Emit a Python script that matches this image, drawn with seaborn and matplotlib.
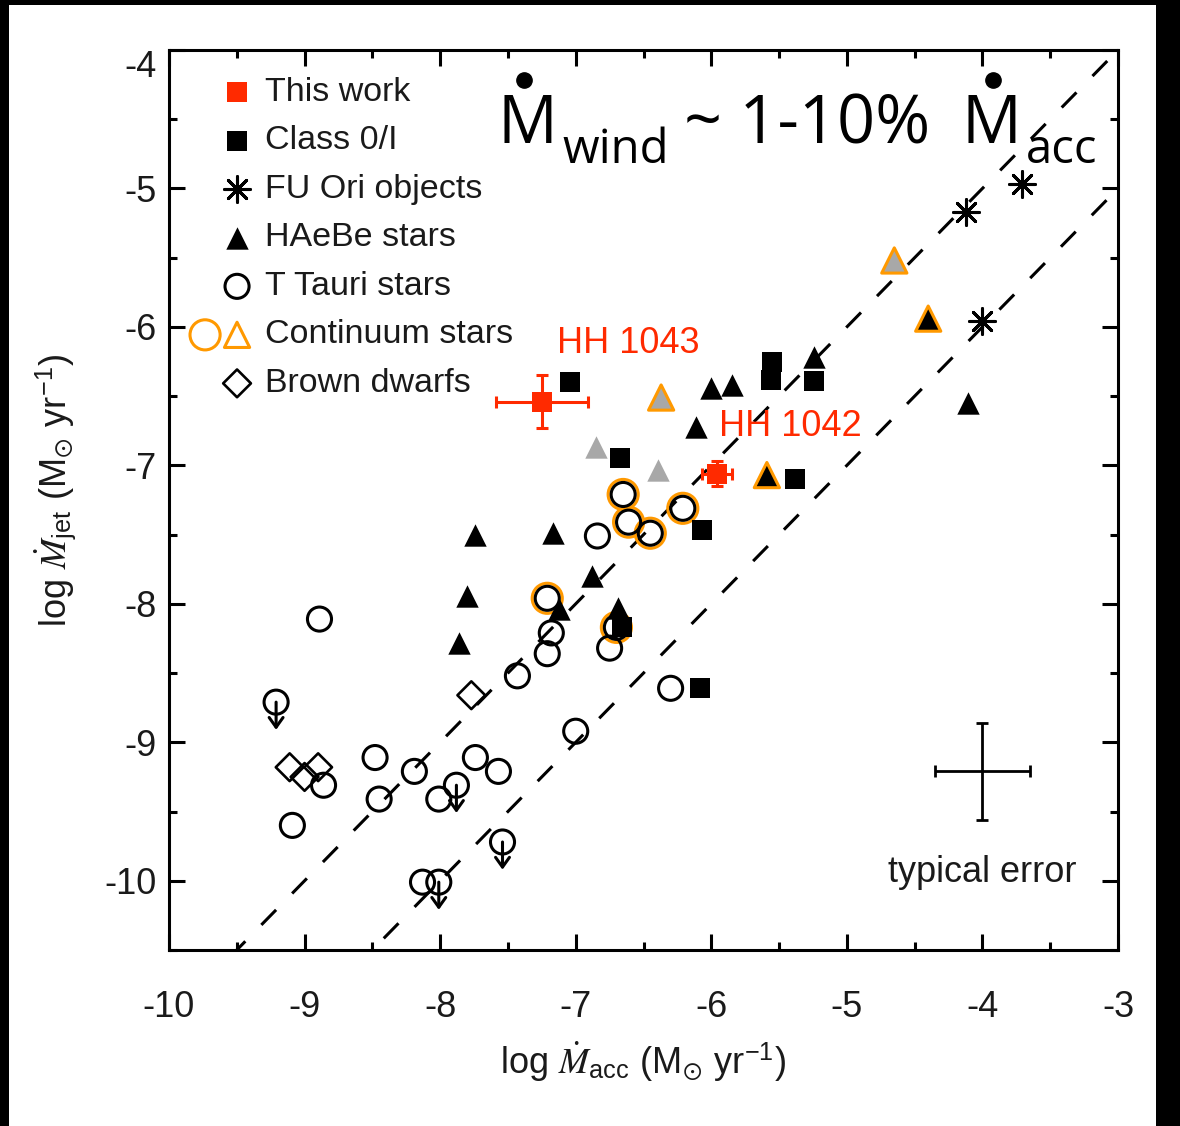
import matplotlib
matplotlib.use("Agg")
import matplotlib.pyplot as plt
import numpy as np
import seaborn as sns
from matplotlib.lines import Line2D
from matplotlib.patches import Rectangle
from matplotlib.ticker import MultipleLocator

# log Mdot_acc (x) and log Mdot_jet (y)
THIS_WORK_X = [-7.25, -5.96]
THIS_WORK_Y = [-6.54, -7.06]
THIS_WORK_XERR = [0.34, 0.11]
THIS_WORK_YERR = [0.19, 0.09]
THIS_WORK_NAMES = ["HH 1043", "HH 1042"]
NAME_X = [-7.14, -5.94]  # left edge of each name
NAME_Y = [-6.12, -6.72]

CLASS0_X = [-7.04, -6.67, -5.55, -5.56, -5.24, -5.38, -6.07, -6.66, -6.08]
CLASS0_Y = [-6.40, -6.95, -6.25, -6.38, -6.39, -7.10, -7.47, -8.17, -8.61]

FUORI_X = [-4.12, -3.71, -4.00]
FUORI_Y = [-5.17, -4.97, -5.96]

HAEBE_X = [-6.00, -5.85, -5.24, -6.11, -7.74, -7.17, -7.80, -7.86, -6.88, -7.12, -6.69, -4.11]
HAEBE_Y = [-6.44, -6.42, -6.22, -6.72, -7.50, -7.49, -7.94, -8.28, -7.80, -8.04, -8.03, -6.55]
HAEBE_GREY_X = [-6.85, -6.39]
HAEBE_GREY_Y = [-6.87, -7.03]

# continuum stars (orange outline)
CONT_TRI_X = [-4.40, -5.59, -4.65, -6.37]
CONT_TRI_Y = [-5.94, -7.07, -5.52, -6.51]
CONT_TRI_GREY = [False, False, True, True]
CONT_CIRC_X = [-6.65, -6.61, -6.45, -6.21, -7.21, -6.70]
CONT_CIRC_Y = [-7.21, -7.41, -7.49, -7.31, -7.96, -8.17]

TT_X = [-8.89, -9.21, -6.84, -7.18, -7.21, -7.43, -6.75, -6.30, -7.00, -8.48, -8.19,
        -8.45, -8.86, -9.09, -7.74, -7.57, -7.88, -8.01, -7.54, -8.13, -8.01]
TT_Y = [-8.11, -8.71, -7.51, -8.21, -8.36, -8.52, -8.32, -8.61, -8.92, -9.11, -9.21,
        -9.41, -9.31, -9.60, -9.11, -9.21, -9.31, -9.41, -9.72, -10.01, -10.01]
TT_UPPER = [False, True, False, False, False, False, False, False, False, False, False,
            False, False, False, False, False, True, False, True, False, True]

BD_X = [-9.11, -9.00, -8.90, -7.77]
BD_Y = [-9.18, -9.25, -9.18, -8.66]

TYPICAL_X, TYPICAL_Y, TYPICAL_ERR = -4.0, -9.21, 0.35
UL_ARROW = 0.2

LINE_X = np.array([-10.0, -3.0])
LINE_OFFSETS = [1, 2]  # Mjet = 10% and 1% of Macc

LEGEND_LABELS = ["This work", "Class 0/I", "FU Ori objects", "HAeBe stars",
                 "T Tauri stars", "Continuum stars", "Brown dwarfs"]

RED = "#FF2A00"
ORANGE = "#FF9900"
GREY = "#A8A8A8"
INK = "#1a1a1a"
LW = 2.2

STYLE = {
    "this_work": dict(marker="s", s=210, color=RED, edgecolor=RED, linewidth=0),
    "class0": dict(marker="s", s=200, color="black", edgecolor="black", linewidth=0),
    "fuori": dict(marker=(8, 2, 0), s=340, color="black", linewidth=LW),
    "haebe": dict(marker="^", s=260, color="black", edgecolor="black", linewidth=0),
    "ttauri": dict(marker="o", s=300, facecolor="none", edgecolor="black", linewidth=LW),
    "cont_circ": dict(marker="o", s=470, facecolor="none", edgecolor=ORANGE, linewidth=LW),
    "cont_tri": dict(marker="^", s=330, facecolor="none", edgecolor=ORANGE, linewidth=LW),
    "bd": dict(marker="D", s=200, facecolor="none", edgecolor="black", linewidth=1.9),
}

W, H = 1180, 1126

sns.set_theme(style="ticks")
plt.rcParams["font.family"] = ["Liberation Sans", "DejaVu Sans"]
plt.rcParams["mathtext.fontset"] = "stix"
plt.rcParams["axes.unicode_minus"] = False


def fpos(x, y_top):
    # pixel position (from top-left) -> figure fraction
    return x / W, 1 - y_top / H


def scatter(ax, xs, ys, key, zorder, **extra):
    kws = {**STYLE[key], **extra}
    sns.scatterplot(x=xs, y=ys, ax=ax, legend=False, zorder=zorder, **kws)


fig = plt.figure(figsize=(W / 100, H / 100), dpi=100, facecolor="black")
fig.patches.append(Rectangle((9 / W, 0), (1156 - 9) / W, (H - 5) / H,
                             transform=fig.transFigure, facecolor="white",
                             edgecolor="none", zorder=-10))
ax = fig.add_axes([169 / W, 176 / H, 949 / W, 900 / H])

# reference lines
for off in LINE_OFFSETS:
    sns.lineplot(x=LINE_X, y=LINE_X - off, ax=ax, color="black", linewidth=LW,
                 linestyle=(0, (6.9, 7.5)), zorder=2)

# T Tauri + continuum circles
scatter(ax, CONT_CIRC_X, CONT_CIRC_Y, "cont_circ", 3)
scatter(ax, CONT_CIRC_X, CONT_CIRC_Y, "ttauri", 3.2)
scatter(ax, TT_X, TT_Y, "ttauri", 3.2)
for x, y, up in zip(TT_X, TT_Y, TT_UPPER):
    if up:
        ax.annotate("", xy=(x, y - UL_ARROW), xytext=(x, y),
                    arrowprops=dict(arrowstyle="->,head_length=0.35,head_width=0.25",
                                    lw=LW, color="black", shrinkA=0, shrinkB=0,
                                    mutation_scale=20), zorder=3.2)
scatter(ax, BD_X, BD_Y, "bd", 3.3)

# HAeBe stars
scatter(ax, HAEBE_X, HAEBE_Y, "haebe", 4)
scatter(ax, HAEBE_GREY_X, HAEBE_GREY_Y, "haebe", 4, color=GREY, edgecolor=GREY)
tri_fill = [GREY if g else "black" for g in CONT_TRI_GREY]
ax.scatter(CONT_TRI_X, CONT_TRI_Y, marker="^", s=330, facecolor=tri_fill,
           edgecolor=ORANGE, linewidth=LW, zorder=4)

scatter(ax, CLASS0_X, CLASS0_Y, "class0", 4.5)
scatter(ax, FUORI_X, FUORI_Y, "fuori", 4.5)

# this work
ax.errorbar(THIS_WORK_X, THIS_WORK_Y, xerr=THIS_WORK_XERR, yerr=THIS_WORK_YERR,
            fmt="none", ecolor=RED, elinewidth=LW, capsize=4.5, capthick=LW, zorder=5)
scatter(ax, THIS_WORK_X, THIS_WORK_Y, "this_work", 6)
for x, y, name in zip(NAME_X, NAME_Y, THIS_WORK_NAMES):
    ax.text(x, y, name, color=RED, fontsize=26, ha="left", va="center", zorder=7)

# typical error cross
ax.errorbar([TYPICAL_X], [TYPICAL_Y], xerr=TYPICAL_ERR, yerr=TYPICAL_ERR, fmt="none",
            ecolor="black", elinewidth=2.0, capsize=4.3, capthick=2.0, zorder=5)
ax.text(TYPICAL_X, TYPICAL_Y - 0.73, "typical error", ha="center", va="center",
        fontsize=26, color=INK)

# legend, drawn by hand so the two continuum symbols sit left of the column
keys = ["this_work", "class0", "fuori", "haebe", "ttauri", None, "bd"]
for i, (key, label) in enumerate(zip(keys, LEGEND_LABELS)):
    yy = 0.953 - i * 0.0539
    if key is None:
        ax.scatter([0.038], [yy], transform=ax.transAxes, clip_on=False, zorder=8,
                   **STYLE["cont_circ"])
        ax.scatter([0.0717], [yy], transform=ax.transAxes, clip_on=False, zorder=8,
                   **STYLE["cont_tri"])
    else:
        ax.scatter([0.0717], [yy], transform=ax.transAxes, clip_on=False, zorder=8,
                   **STYLE[key])
    ax.text(0.101, yy, label, transform=ax.transAxes, fontsize=24.5, color=INK,
            ha="left", va="center")

# axes
ax.set_xlim(-10, -3)
ax.set_ylim(-10.5, -4)
ax.xaxis.set_major_locator(MultipleLocator(1))
ax.xaxis.set_minor_locator(MultipleLocator(0.5))
ax.yaxis.set_major_locator(MultipleLocator(1))
ax.yaxis.set_minor_locator(MultipleLocator(0.5))
ax.tick_params(which="both", direction="in", top=True, right=True, width=2.2,
               color="black", labelcolor=INK, labelsize=26)
ax.tick_params(which="major", length=11.5)
ax.tick_params(which="minor", length=5.8)
ax.tick_params(axis="x", pad=29)
ax.tick_params(axis="y", pad=8.6)
for sp in ax.spines.values():
    sp.set_linewidth(2.2)
    sp.set_color("black")
ax.grid(False)

ax.set_xlabel(r"log $\dot{M}_{\mathregular{acc}}$ (M$_{\odot}$ yr$^{\mathregular{-1}}$)",
              fontsize=26, color=INK, va="center")
ax.set_ylabel(r"log $\dot{M}_{\mathregular{jet}}$ (M$_{\odot}$ yr$^{\mathregular{-1}}$)",
              fontsize=26, color=INK, va="center")
ax.xaxis.set_label_coords(0.5, -0.124)
ax.yaxis.set_label_coords(-0.12, 0.511)

# big headline:  Mdot_wind ~ 1-10% Mdot_acc
big = dict(family=["Open Sans", "DejaVu Sans"], color="black", ha="left", va="baseline")
fig.text(*fpos(497, 143), "M", fontsize=48, **big)
fig.text(*fpos(562, 163), "wind", fontsize=34, **big)
fig.text(*fpos(684, 143), "~ 1-10%", fontsize=48, **big)
fig.text(*fpos(962, 143), "M", fontsize=48, **big)
fig.text(*fpos(1026, 163), "acc", fontsize=34, **big)
for dx in (524, 993):
    fig.add_artist(Line2D([dx / W], [1 - 80 / H], marker="o", markersize=11,
                          color="black", transform=fig.transFigure))

fig.canvas.draw()
for t in ax.yaxis.get_major_ticks():
    if np.isclose(t.get_loc(), -4):
        t.label1.set_verticalalignment("top")

fig.savefig("out.png", dpi=100, facecolor=fig.get_facecolor())
